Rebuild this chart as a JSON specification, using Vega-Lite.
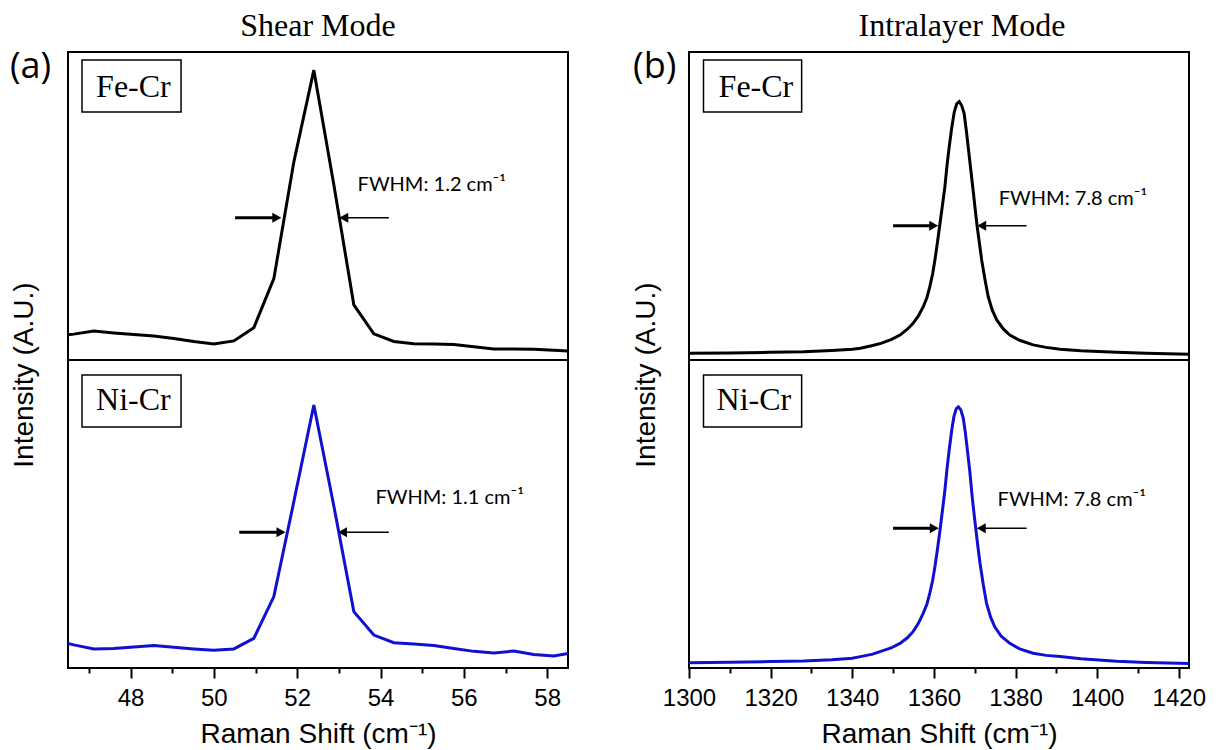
{
  "$schema": "https://vega.github.io/schema/vega-lite/v6.json",
  "padding": {"left": 8, "top": 8, "right": 5, "bottom": 2},
  "background": "white",
  "config": {
    "view": {"stroke": "black", "strokeWidth": 2},
    "axis": {"grid": false}
  },
  "datasets": {
    "shearFe": [
      {"shift": 46.16, "intensity": 78}, {"shift": 46.64, "intensity": 84}, {"shift": 47.12, "intensity": 94},
      {"shift": 47.60, "intensity": 88}, {"shift": 48.08, "intensity": 83}, {"shift": 48.56, "intensity": 78},
      {"shift": 49.04, "intensity": 70}, {"shift": 49.52, "intensity": 60}, {"shift": 50.00, "intensity": 52},
      {"shift": 50.48, "intensity": 62}, {"shift": 50.96, "intensity": 105}, {"shift": 51.44, "intensity": 264},
      {"shift": 51.92, "intensity": 643}, {"shift": 52.40, "intensity": 941}, {"shift": 52.88, "intensity": 569},
      {"shift": 53.36, "intensity": 179}, {"shift": 53.84, "intensity": 85}, {"shift": 54.32, "intensity": 60},
      {"shift": 54.80, "intensity": 53}, {"shift": 55.28, "intensity": 52}, {"shift": 55.76, "intensity": 50},
      {"shift": 56.24, "intensity": 43}, {"shift": 56.72, "intensity": 36}, {"shift": 57.20, "intensity": 36},
      {"shift": 57.68, "intensity": 35}, {"shift": 58.16, "intensity": 32}, {"shift": 58.64, "intensity": 28}
    ],
    "shearNi": [
      {"shift": 46.16, "intensity": 91}, {"shift": 46.64, "intensity": 75}, {"shift": 47.12, "intensity": 62},
      {"shift": 47.60, "intensity": 63}, {"shift": 48.08, "intensity": 68}, {"shift": 48.56, "intensity": 73},
      {"shift": 49.04, "intensity": 67}, {"shift": 49.52, "intensity": 62}, {"shift": 50.00, "intensity": 58},
      {"shift": 50.48, "intensity": 62}, {"shift": 50.96, "intensity": 96}, {"shift": 51.44, "intensity": 232},
      {"shift": 51.92, "intensity": 540}, {"shift": 52.40, "intensity": 854}, {"shift": 52.88, "intensity": 526},
      {"shift": 53.36, "intensity": 183}, {"shift": 53.84, "intensity": 107}, {"shift": 54.32, "intensity": 82},
      {"shift": 54.80, "intensity": 78}, {"shift": 55.28, "intensity": 73}, {"shift": 55.76, "intensity": 63},
      {"shift": 56.24, "intensity": 54}, {"shift": 56.72, "intensity": 49}, {"shift": 57.20, "intensity": 55},
      {"shift": 57.68, "intensity": 44}, {"shift": 58.16, "intensity": 39}, {"shift": 58.64, "intensity": 50}
    ],
    "intraFe": [
      {"shift": 1300, "intensity": 22}, {"shift": 1310, "intensity": 23}, {"shift": 1320, "intensity": 25},
      {"shift": 1328, "intensity": 27}, {"shift": 1335, "intensity": 31}, {"shift": 1340, "intensity": 35},
      {"shift": 1342, "intensity": 38}, {"shift": 1345, "intensity": 47}, {"shift": 1347, "intensity": 54},
      {"shift": 1349.5, "intensity": 66}, {"shift": 1351.7, "intensity": 81}, {"shift": 1353.5, "intensity": 100},
      {"shift": 1354.9, "intensity": 119}, {"shift": 1356.2, "intensity": 143}, {"shift": 1357.4, "intensity": 173},
      {"shift": 1358.3, "intensity": 203}, {"shift": 1359.0, "intensity": 238}, {"shift": 1359.7, "intensity": 280},
      {"shift": 1360.25, "intensity": 325}, {"shift": 1360.9, "intensity": 385}, {"shift": 1361.5, "intensity": 444},
      {"shift": 1362.1, "intensity": 503}, {"shift": 1362.7, "intensity": 563}, {"shift": 1363.2, "intensity": 630},
      {"shift": 1363.75, "intensity": 692}, {"shift": 1364.4, "intensity": 757}, {"shift": 1365.0, "intensity": 806},
      {"shift": 1365.6, "intensity": 832}, {"shift": 1366.2, "intensity": 839}, {"shift": 1366.8, "intensity": 826},
      {"shift": 1367.4, "intensity": 801}, {"shift": 1367.9, "intensity": 750}, {"shift": 1368.4, "intensity": 692},
      {"shift": 1369.0, "intensity": 622}, {"shift": 1369.6, "intensity": 552}, {"shift": 1370.1, "intensity": 492},
      {"shift": 1370.6, "intensity": 433}, {"shift": 1371.2, "intensity": 375}, {"shift": 1371.7, "intensity": 325},
      {"shift": 1372.5, "intensity": 262}, {"shift": 1373.3, "intensity": 206}, {"shift": 1374.3, "intensity": 162},
      {"shift": 1375.4, "intensity": 130}, {"shift": 1377.0, "intensity": 101}, {"shift": 1378.6, "intensity": 81},
      {"shift": 1381, "intensity": 64}, {"shift": 1384.3, "intensity": 49}, {"shift": 1387.5, "intensity": 41},
      {"shift": 1390.9, "intensity": 35}, {"shift": 1396, "intensity": 30}, {"shift": 1404.8, "intensity": 25},
      {"shift": 1412, "intensity": 22}, {"shift": 1422.5, "intensity": 19}
    ],
    "intraNi": [
      {"shift": 1300, "intensity": 17}, {"shift": 1310, "intensity": 19}, {"shift": 1320, "intensity": 21},
      {"shift": 1328, "intensity": 23}, {"shift": 1335, "intensity": 27}, {"shift": 1340, "intensity": 32},
      {"shift": 1342, "intensity": 37}, {"shift": 1345, "intensity": 45}, {"shift": 1346.8, "intensity": 53},
      {"shift": 1349.5, "intensity": 65}, {"shift": 1351.7, "intensity": 80}, {"shift": 1353.5, "intensity": 98},
      {"shift": 1354.9, "intensity": 118}, {"shift": 1356.2, "intensity": 145}, {"shift": 1357.4, "intensity": 178},
      {"shift": 1358.3, "intensity": 208}, {"shift": 1359.0, "intensity": 243}, {"shift": 1359.7, "intensity": 285},
      {"shift": 1360.25, "intensity": 329}, {"shift": 1360.9, "intensity": 388}, {"shift": 1361.5, "intensity": 448},
      {"shift": 1362.1, "intensity": 512}, {"shift": 1362.7, "intensity": 578}, {"shift": 1363.2, "intensity": 645},
      {"shift": 1363.75, "intensity": 708}, {"shift": 1364.4, "intensity": 775}, {"shift": 1364.9, "intensity": 816},
      {"shift": 1365.5, "intensity": 842}, {"shift": 1366.0, "intensity": 848}, {"shift": 1366.6, "intensity": 838},
      {"shift": 1367.2, "intensity": 811}, {"shift": 1367.7, "intensity": 765}, {"shift": 1368.2, "intensity": 708},
      {"shift": 1368.8, "intensity": 638}, {"shift": 1369.3, "intensity": 567}, {"shift": 1369.8, "intensity": 505},
      {"shift": 1370.3, "intensity": 448}, {"shift": 1370.8, "intensity": 392}, {"shift": 1371.3, "intensity": 340},
      {"shift": 1372.1, "intensity": 270}, {"shift": 1372.9, "intensity": 210}, {"shift": 1373.9, "intensity": 165},
      {"shift": 1374.9, "intensity": 134}, {"shift": 1376.5, "intensity": 103}, {"shift": 1378.6, "intensity": 80},
      {"shift": 1381, "intensity": 62}, {"shift": 1384.3, "intensity": 48}, {"shift": 1387.5, "intensity": 41},
      {"shift": 1390.9, "intensity": 37}, {"shift": 1396, "intensity": 30}, {"shift": 1404.8, "intensity": 22},
      {"shift": 1412, "intensity": 18}, {"shift": 1422.5, "intensity": 15}
    ]
  },
  "hconcat": [
    {
      "vconcat": [
        {
          "width": 500, "height": 308,
          "title": {"text": "Shear Mode", "font": "Liberation Serif", "fontSize": 32, "fontWeight": "normal", "color": "black", "anchor": "middle", "offset": 6},
          "layer": [
            {
              "data": {"name": "shearFe"},
              "mark": {"type": "line", "color": "black", "strokeWidth": 3, "clip": true},
              "encoding": {
                "x": {"field": "shift", "type": "quantitative", "scale": {"domain": [46.5, 58.5], "nice": false, "zero": false}, "axis": null},
                "y": {"field": "intensity", "type": "quantitative", "scale": {"domain": [0, 1000], "nice": false}, "axis": null}
              }
            },
            {
              "data": {"values": [{"x": 46.836, "x2": 49.213, "y": 805, "y2": 974}]},
              "mark": {"type": "rect", "fill": "white", "stroke": "black", "strokeWidth": 1.5},
              "encoding": {
                "x": {"field": "x", "type": "quantitative", "axis": null}, "x2": {"field": "x2"},
                "y": {"field": "y", "type": "quantitative", "axis": null}, "y2": {"field": "y2"}
              }
            },
            {
              "data": {"values": [{"x": 48.07, "y": 854, "label": "Fe-Cr"}]},
              "mark": {"type": "text", "font": "Liberation Serif", "fontSize": 32, "align": "center", "baseline": "alphabetic", "color": "black"},
              "encoding": {
                "x": {"field": "x", "type": "quantitative", "axis": null},
                "y": {"field": "y", "type": "quantitative", "axis": null},
                "text": {"field": "label"}
              }
            },
            {
              "data": {"values": [{"x": 45.108, "y": 916, "label": "(a)"}]},
              "mark": {"type": "text", "font": "Open Sans", "fontSize": 36, "align": "left", "baseline": "alphabetic", "color": "black"},
              "encoding": {
                "x": {"field": "x", "type": "quantitative", "axis": null},
                "y": {"field": "y", "type": "quantitative", "axis": null},
                "text": {"field": "label"}
              }
            },
            {
              "data": {"values": [{"x": 50.51, "x2": 51.45, "y": 462}]},
              "mark": {"type": "rule", "color": "black", "strokeWidth": 3},
              "encoding": {"x": {"field": "x", "type": "quantitative", "axis": null}, "x2": {"field": "x2"}, "y": {"field": "y", "type": "quantitative", "axis": null}}
            },
            {
              "data": {"values": [{"x": 53.06, "x2": 54.2, "y": 462}]},
              "mark": {"type": "rule", "color": "black", "strokeWidth": 1.5},
              "encoding": {"x": {"field": "x", "type": "quantitative", "axis": null}, "x2": {"field": "x2"}, "y": {"field": "y", "type": "quantitative", "axis": null}}
            },
            {
              "data": {"values": [{"x": 51.62, "y": 462}]},
              "mark": {"type": "point", "shape": "M0,0L-1,-0.55L-1,0.55Z", "size": 324, "filled": true, "color": "black", "opacity": 1},
              "encoding": {"x": {"field": "x", "type": "quantitative", "axis": null}, "y": {"field": "y", "type": "quantitative", "axis": null}}
            },
            {
              "data": {"values": [{"x": 53.01, "y": 462}]},
              "mark": {"type": "point", "shape": "M0,0L1,-0.55L1,0.55Z", "size": 324, "filled": true, "color": "black", "opacity": 1},
              "encoding": {"x": {"field": "x", "type": "quantitative", "axis": null}, "y": {"field": "y", "type": "quantitative", "axis": null}}
            },
            {
              "data": {"values": [{"x": 53.45, "y": 548, "label": "FWHM: 1.2 cm⁻¹"}]},
              "mark": {"type": "text", "font": "Lato", "fontSize": 20, "align": "left", "baseline": "alphabetic", "color": "black"},
              "encoding": {"x": {"field": "x", "type": "quantitative", "axis": null}, "y": {"field": "y", "type": "quantitative", "axis": null}, "text": {"field": "label"}}
            }
          ]
        },
        {
          "width": 500, "height": 308,
          "resolve": {"axis": {"x": "independent"}},
          "layer": [
            {
              "data": {"name": "shearNi"},
              "mark": {"type": "line", "color": "#1010d0", "strokeWidth": 3, "clip": true},
              "encoding": {
                "x": {"field": "shift", "type": "quantitative", "scale": {"domain": [46.5, 58.5], "nice": false, "zero": false},
                  "axis": {"orient": "bottom", "values": [48, 50, 52, 54, 56, 58], "title": "Raman Shift (cm⁻¹)", "domain": false, "ticks": true, "tickSize": 10, "tickWidth": 2, "tickColor": "black", "labelFont": "Liberation Sans", "labelFontSize": 24, "labelColor": "black", "labelPadding": 8, "labelFlush": false, "labelOverlap": false, "titleFont": "Liberation Sans", "titleFontSize": 28, "titleFontWeight": "normal", "titleColor": "black", "titlePadding": 10, "grid": false}},
                "y": {"field": "intensity", "type": "quantitative", "scale": {"domain": [0, 1000], "nice": false}, "axis": null}
              }
            },
            {
              "data": {"values": [{"x": 45.47, "y": 951, "label": "Intensity (A.U.)"}]},
              "mark": {"type": "text", "font": "Liberation Sans", "fontSize": 28, "angle": 270, "align": "center", "baseline": "middle", "color": "black"},
              "encoding": {"x": {"field": "x", "type": "quantitative", "axis": null}, "y": {"field": "y", "type": "quantitative", "axis": null}, "text": {"field": "label"}}
            },
            {
              "data": {"values": [{"x": 46.836, "x2": 49.213, "y": 782.5, "y2": 951}]},
              "mark": {"type": "rect", "fill": "white", "stroke": "black", "strokeWidth": 1.5},
              "encoding": {
                "x": {"field": "x", "type": "quantitative", "axis": null}, "x2": {"field": "x2"},
                "y": {"field": "y", "type": "quantitative", "axis": null}, "y2": {"field": "y2"}
              }
            },
            {
              "data": {"values": [{"x": 48.07, "y": 838, "label": "Ni-Cr"}]},
              "mark": {"type": "text", "font": "Liberation Serif", "fontSize": 32, "align": "center", "baseline": "alphabetic", "color": "black"},
              "encoding": {"x": {"field": "x", "type": "quantitative", "axis": null}, "y": {"field": "y", "type": "quantitative", "axis": null}, "text": {"field": "label"}}
            },
            {
              "data": {"values": [{"x": 50.61, "x2": 51.55, "y": 440.6}]},
              "mark": {"type": "rule", "color": "black", "strokeWidth": 3},
              "encoding": {
                "x": {"field": "x", "type": "quantitative", "scale": {"domain": [46.5, 58.5], "nice": false, "zero": false},
                  "axis": {"orient": "bottom", "values": [47, 49, 51, 53, 55, 57], "labels": false, "title": null, "domain": false, "ticks": true, "tickSize": 5, "tickWidth": 2, "tickColor": "black", "grid": false}},
                "x2": {"field": "x2"}, "y": {"field": "y", "type": "quantitative", "axis": null}}
            },
            {
              "data": {"values": [{"x": 53.05, "x2": 54.2, "y": 440.6}]},
              "mark": {"type": "rule", "color": "black", "strokeWidth": 1.5},
              "encoding": {"x": {"field": "x", "type": "quantitative", "axis": null}, "x2": {"field": "x2"}, "y": {"field": "y", "type": "quantitative", "axis": null}}
            },
            {
              "data": {"values": [{"x": 51.72, "y": 440.6}]},
              "mark": {"type": "point", "shape": "M0,0L-1,-0.55L-1,0.55Z", "size": 324, "filled": true, "color": "black", "opacity": 1},
              "encoding": {"x": {"field": "x", "type": "quantitative", "axis": null}, "y": {"field": "y", "type": "quantitative", "axis": null}}
            },
            {
              "data": {"values": [{"x": 52.98, "y": 440.6}]},
              "mark": {"type": "point", "shape": "M0,0L1,-0.55L1,0.55Z", "size": 324, "filled": true, "color": "black", "opacity": 1},
              "encoding": {"x": {"field": "x", "type": "quantitative", "axis": null}, "y": {"field": "y", "type": "quantitative", "axis": null}}
            },
            {
              "data": {"values": [{"x": 53.88, "y": 532, "label": "FWHM: 1.1 cm⁻¹"}]},
              "mark": {"type": "text", "font": "Lato", "fontSize": 20, "align": "left", "baseline": "alphabetic", "color": "black"},
              "encoding": {"x": {"field": "x", "type": "quantitative", "axis": null}, "y": {"field": "y", "type": "quantitative", "axis": null}, "text": {"field": "label"}}
            }
          ]
        }
      ],
      "spacing": 0,
      "bounds": "flush"
    },
    {
      "vconcat": [
        {
          "width": 500, "height": 308,
          "title": {"text": "Intralayer Mode", "font": "Liberation Serif", "fontSize": 32, "fontWeight": "normal", "color": "black", "anchor": "middle", "offset": 6, "dx": 23},
          "layer": [
            {
              "data": {"name": "intraFe"},
              "mark": {"type": "line", "color": "black", "strokeWidth": 3, "clip": true},
              "encoding": {
                "x": {"field": "shift", "type": "quantitative", "scale": {"domain": [1300, 1422.5], "nice": false, "zero": false}, "axis": null},
                "y": {"field": "intensity", "type": "quantitative", "scale": {"domain": [0, 1000], "nice": false}, "axis": null}
              }
            },
            {
              "data": {"values": [{"x": 1303.55, "x2": 1327.6, "y": 805, "y2": 974}]},
              "mark": {"type": "rect", "fill": "white", "stroke": "black", "strokeWidth": 1.5},
              "encoding": {
                "x": {"field": "x", "type": "quantitative", "axis": null}, "x2": {"field": "x2"},
                "y": {"field": "y", "type": "quantitative", "axis": null}, "y2": {"field": "y2"}
              }
            },
            {
              "data": {"values": [{"x": 1316.4, "y": 854, "label": "Fe-Cr"}]},
              "mark": {"type": "text", "font": "Liberation Serif", "fontSize": 32, "align": "center", "baseline": "alphabetic", "color": "black"},
              "encoding": {"x": {"field": "x", "type": "quantitative", "axis": null}, "y": {"field": "y", "type": "quantitative", "axis": null}, "text": {"field": "label"}}
            },
            {
              "data": {"values": [{"x": 1286.3, "y": 916, "label": "(b)"}]},
              "mark": {"type": "text", "font": "Open Sans", "fontSize": 36, "align": "left", "baseline": "alphabetic", "color": "black"},
              "encoding": {"x": {"field": "x", "type": "quantitative", "axis": null}, "y": {"field": "y", "type": "quantitative", "axis": null}, "text": {"field": "label"}}
            },
            {
              "data": {"values": [{"x": 1350.0, "x2": 1359.0, "y": 436}]},
              "mark": {"type": "rule", "color": "black", "strokeWidth": 3},
              "encoding": {"x": {"field": "x", "type": "quantitative", "axis": null}, "x2": {"field": "x2"}, "y": {"field": "y", "type": "quantitative", "axis": null}}
            },
            {
              "data": {"values": [{"x": 1372.6, "x2": 1382.7, "y": 436}]},
              "mark": {"type": "rule", "color": "black", "strokeWidth": 1.5},
              "encoding": {"x": {"field": "x", "type": "quantitative", "axis": null}, "x2": {"field": "x2"}, "y": {"field": "y", "type": "quantitative", "axis": null}}
            },
            {
              "data": {"values": [{"x": 1361.06, "y": 436}]},
              "mark": {"type": "point", "shape": "M0,0L-1,-0.55L-1,0.55Z", "size": 324, "filled": true, "color": "black", "opacity": 1},
              "encoding": {"x": {"field": "x", "type": "quantitative", "axis": null}, "y": {"field": "y", "type": "quantitative", "axis": null}}
            },
            {
              "data": {"values": [{"x": 1370.6, "y": 436}]},
              "mark": {"type": "point", "shape": "M0,0L1,-0.55L1,0.55Z", "size": 324, "filled": true, "color": "black", "opacity": 1},
              "encoding": {"x": {"field": "x", "type": "quantitative", "axis": null}, "y": {"field": "y", "type": "quantitative", "axis": null}}
            },
            {
              "data": {"values": [{"x": 1375.9, "y": 504, "label": "FWHM: 7.8 cm⁻¹"}]},
              "mark": {"type": "text", "font": "Lato", "fontSize": 20, "align": "left", "baseline": "alphabetic", "color": "black"},
              "encoding": {"x": {"field": "x", "type": "quantitative", "axis": null}, "y": {"field": "y", "type": "quantitative", "axis": null}, "text": {"field": "label"}}
            }
          ]
        },
        {
          "width": 500, "height": 308,
          "resolve": {"axis": {"x": "independent"}},
          "layer": [
            {
              "data": {"name": "intraNi"},
              "mark": {"type": "line", "color": "#1010d0", "strokeWidth": 3, "clip": true},
              "encoding": {
                "x": {"field": "shift", "type": "quantitative", "scale": {"domain": [1300, 1422.5], "nice": false, "zero": false},
                  "axis": {"orient": "bottom", "values": [1300, 1320, 1340, 1360, 1380, 1400, 1420], "format": "d", "title": "Raman Shift (cm⁻¹)", "domain": false, "ticks": true, "tickSize": 10, "tickWidth": 2, "tickColor": "black", "labelFont": "Liberation Sans", "labelFontSize": 24, "labelColor": "black", "labelPadding": 8, "labelFlush": false, "labelOverlap": false, "titleFont": "Liberation Sans", "titleFontSize": 28, "titleFontWeight": "normal", "titleColor": "black", "titlePadding": 10, "grid": false}},
                "y": {"field": "intensity", "type": "quantitative", "scale": {"domain": [0, 1000], "nice": false}, "axis": null}
              }
            },
            {
              "data": {"values": [{"x": 1289.7, "y": 951, "label": "Intensity (A.U.)"}]},
              "mark": {"type": "text", "font": "Liberation Sans", "fontSize": 28, "angle": 270, "align": "center", "baseline": "middle", "color": "black"},
              "encoding": {"x": {"field": "x", "type": "quantitative", "axis": null}, "y": {"field": "y", "type": "quantitative", "axis": null}, "text": {"field": "label"}}
            },
            {
              "data": {"values": [{"x": 1303.55, "x2": 1327.6, "y": 782.5, "y2": 951}]},
              "mark": {"type": "rect", "fill": "white", "stroke": "black", "strokeWidth": 1.5},
              "encoding": {
                "x": {"field": "x", "type": "quantitative", "axis": null}, "x2": {"field": "x2"},
                "y": {"field": "y", "type": "quantitative", "axis": null}, "y2": {"field": "y2"}
              }
            },
            {
              "data": {"values": [{"x": 1315.9, "y": 838, "label": "Ni-Cr"}]},
              "mark": {"type": "text", "font": "Liberation Serif", "fontSize": 32, "align": "center", "baseline": "alphabetic", "color": "black"},
              "encoding": {"x": {"field": "x", "type": "quantitative", "axis": null}, "y": {"field": "y", "type": "quantitative", "axis": null}, "text": {"field": "label"}}
            },
            {
              "data": {"values": [{"x": 1350.0, "x2": 1359.1, "y": 453.6}]},
              "mark": {"type": "rule", "color": "black", "strokeWidth": 3},
              "encoding": {
                "x": {"field": "x", "type": "quantitative", "scale": {"domain": [1300, 1422.5], "nice": false, "zero": false},
                  "axis": {"orient": "bottom", "values": [1310, 1330, 1350, 1370, 1390, 1410], "labels": false, "title": null, "domain": false, "ticks": true, "tickSize": 5, "tickWidth": 2, "tickColor": "black", "grid": false}},
                "x2": {"field": "x2"}, "y": {"field": "y", "type": "quantitative", "axis": null}}
            },
            {
              "data": {"values": [{"x": 1372.5, "x2": 1382.7, "y": 453.6}]},
              "mark": {"type": "rule", "color": "black", "strokeWidth": 1.5},
              "encoding": {"x": {"field": "x", "type": "quantitative", "axis": null}, "x2": {"field": "x2"}, "y": {"field": "y", "type": "quantitative", "axis": null}}
            },
            {
              "data": {"values": [{"x": 1361.2, "y": 453.6}]},
              "mark": {"type": "point", "shape": "M0,0L-1,-0.55L-1,0.55Z", "size": 324, "filled": true, "color": "black", "opacity": 1},
              "encoding": {"x": {"field": "x", "type": "quantitative", "axis": null}, "y": {"field": "y", "type": "quantitative", "axis": null}}
            },
            {
              "data": {"values": [{"x": 1370.5, "y": 453.6}]},
              "mark": {"type": "point", "shape": "M0,0L1,-0.55L1,0.55Z", "size": 324, "filled": true, "color": "black", "opacity": 1},
              "encoding": {"x": {"field": "x", "type": "quantitative", "axis": null}, "y": {"field": "y", "type": "quantitative", "axis": null}}
            },
            {
              "data": {"values": [{"x": 1375.6, "y": 525, "label": "FWHM: 7.8 cm⁻¹"}]},
              "mark": {"type": "text", "font": "Lato", "fontSize": 20, "align": "left", "baseline": "alphabetic", "color": "black"},
              "encoding": {"x": {"field": "x", "type": "quantitative", "axis": null}, "y": {"field": "y", "type": "quantitative", "axis": null}, "text": {"field": "label"}}
            }
          ]
        }
      ],
      "spacing": 0,
      "bounds": "flush"
    }
  ],
  "spacing": 62
}
